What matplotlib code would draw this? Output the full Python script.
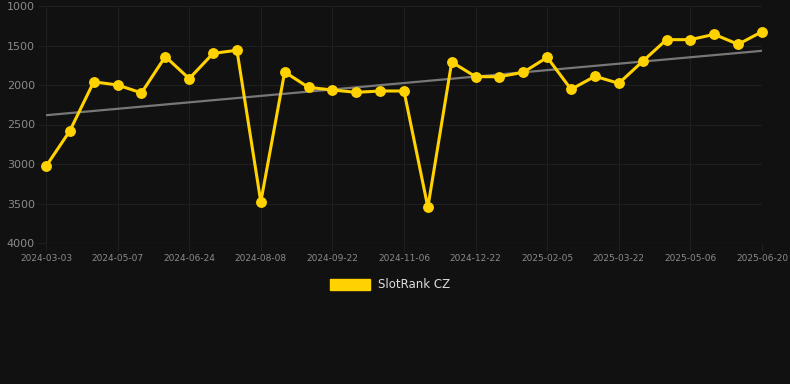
"""SlotRank CZ rank history chart (dark theme)."""

import numpy as np
import matplotlib
matplotlib.use("Agg")
import matplotlib.pyplot as plt  # noqa: E402
from matplotlib.patches import Patch  # noqa: E402

# ---------------------------------------------------------------------------
# Data
# ---------------------------------------------------------------------------
tick_labels = [
    "2024-03-03", "2024-05-07", "2024-06-24", "2024-08-08", "2024-09-22",
    "2024-11-06", "2024-12-22", "2025-02-05", "2025-03-22", "2025-05-06",
    "2025-06-20",
]
rank = [
    3030, 2580, 1960, 2000, 2100, 1640, 1920, 1600, 1560, 3480,
    1835, 2030, 2063, 2093, 2076, 2076, 3548, 1709, 1895, 1895,
    1839, 1650, 2055, 1890, 1979, 1700, 1426, 1426, 1359, 1485,
    1325,
]
series_name = "SlotRank CZ"

# ---------------------------------------------------------------------------
# Style constants
# ---------------------------------------------------------------------------
_BG = "#111111"
_GRID = "#1f1f1f"
_TICK_TEXT = "#8a8a8a"
_YELLOW = "#ffd200"
_TREND = "#777777"
_LEGEND_TEXT = "#dddddd"

fig = plt.figure(figsize=(7.9, 3.84), dpi=100, facecolor=_BG)
ax = fig.add_axes([46 / 790, 1 - 243 / 384, 716 / 790, 237 / 384])
ax.set_facecolor(_BG)

x = np.arange(len(rank))

# linear trend
coef = np.polyfit(x, rank, 1)
ax.plot(x, np.polyval(coef, x), color=_TREND, lw=1.6, zorder=2)

ax.plot(x, rank, color=_YELLOW, lw=2.2, marker="o", markersize=6.8,
        clip_on=False, zorder=3)

ax.set_xlim(0, len(rank) - 1)
ax.set_ylim(4000, 1000)
ax.set_yticks(np.arange(1000, 4001, 500))
ax.set_xticks(x[::3])
ax.set_xticklabels(tick_labels)

for s in ax.spines.values():
    s.set_visible(False)
ax.grid(True, color=_GRID, lw=0.8)
ax.set_axisbelow(True)
ax.tick_params(axis="x", colors=_GRID, labelcolor=_TICK_TEXT, labelsize=6.5,
               length=6, width=0.8, pad=2)
ax.tick_params(axis="y", colors=_GRID, labelcolor=_TICK_TEXT, labelsize=8,
               length=6, width=0.8, pad=2)
ax.axhline(4000, color="#2e2e2e", lw=0.9, zorder=1)

fig.legend(handles=[Patch(color=_YELLOW, label=series_name)],
           loc="center", bbox_to_anchor=(390 / 790, 1 - 285 / 384),
           frameon=False, fontsize=8.5, labelcolor=_LEGEND_TEXT,
           handlelength=3.4, handleheight=1.0, handletextpad=0.6)

fig.savefig("out.png", dpi=100, facecolor=_BG)
